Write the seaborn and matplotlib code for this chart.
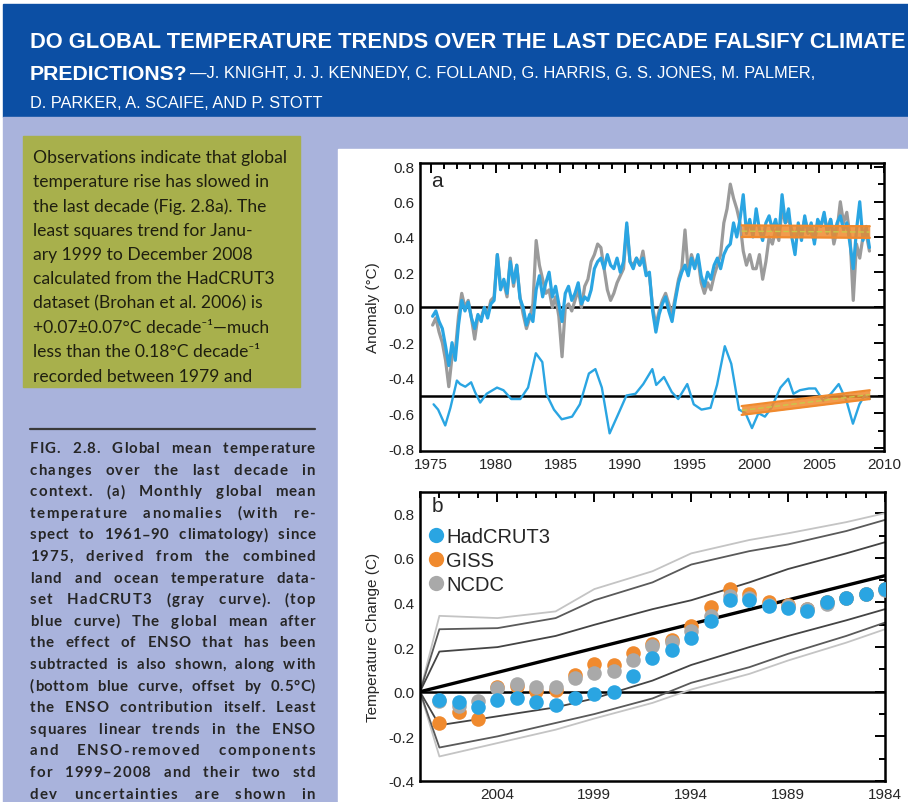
import numpy as np
import matplotlib
matplotlib.use("Agg")
import matplotlib.pyplot as plt
from matplotlib.patches import Rectangle
from matplotlib.lines import Line2D
from matplotlib.ticker import MultipleLocator, FixedLocator
import seaborn as sns

# ---- panel a: quarterly anomalies, 1975 Q1 .. 2008 Q4 ----
first_year = 1975
hadcrut3 = [
    -0.10, -0.06, -0.14, -0.20,  -0.30, -0.45, -0.28, -0.25,  -0.05, 0.08, 0.00, 0.04,
    -0.06, -0.18, -0.05, -0.06,   0.00, -0.04, 0.04, 0.06,    0.30, 0.12, 0.14, 0.06,
    0.28, 0.12, 0.24, 0.06,      -0.04, -0.12, -0.06, 0.02,   0.38, 0.24, 0.16, 0.08,
    0.10, 0.00, 0.06, -0.05,     -0.28, 0.00, 0.02, -0.02,    0.04, 0.10, 0.00, 0.12,
    0.16, 0.26, 0.30, 0.36,       0.34, 0.22, 0.10, 0.04,     0.08, 0.14, 0.18, 0.22,
    0.46, 0.26, 0.24, 0.28,       0.24, 0.32, 0.20, 0.18,     0.00, -0.10, -0.02, 0.04,
    0.08, 0.02, -0.04, 0.06,      0.16, 0.22, 0.44, 0.20,     0.30, 0.24, 0.28, 0.14,
    0.08, 0.14, 0.10, 0.18,       0.24, 0.30, 0.48, 0.56,     0.70, 0.62, 0.56, 0.48,
    0.32, 0.24, 0.30, 0.22,       0.22, 0.30, 0.16, 0.26,     0.40, 0.36, 0.44, 0.38,
    0.56, 0.48, 0.50, 0.44,       0.40, 0.46, 0.42, 0.50,     0.44, 0.42, 0.38, 0.48,
    0.46, 0.52, 0.44, 0.50,       0.36, 0.44, 0.60, 0.48,     0.54, 0.40, 0.04, 0.36,
    0.28, 0.40, 0.42, 0.32,
]
enso_removed = [
    -0.05, -0.02, -0.08, -0.12,  -0.22, -0.33, -0.20, -0.30,  -0.10, 0.04, -0.02, 0.03,
    -0.06, -0.12, -0.04, -0.08,   0.00, -0.06, 0.02, 0.04,    0.30, 0.10, 0.16, 0.08,
    0.26, 0.14, 0.24, 0.05,       0.00, -0.10, -0.04, -0.08,  0.10, 0.18, 0.06, 0.14,
    0.20, 0.06, 0.12, 0.02,      -0.08, 0.08, 0.12, 0.04,     0.08, 0.14, 0.02, 0.06,
    0.04, 0.10, 0.22, 0.26,       0.28, 0.22, 0.30, 0.24,     0.22, 0.28, 0.20, 0.26,
    0.48, 0.26, 0.22, 0.28,       0.24, 0.28, 0.18, 0.20,    -0.02, -0.14, -0.04, 0.02,
    0.06, -0.02, -0.08, 0.04,     0.14, 0.20, 0.24, 0.18,     0.28, 0.22, 0.30, 0.18,
    0.12, 0.20, 0.16, 0.24,       0.28, 0.22, 0.30, 0.34,     0.36, 0.48, 0.40, 0.50,
    0.64, 0.42, 0.50, 0.40,       0.56, 0.44, 0.38, 0.48,     0.52, 0.44, 0.50, 0.40,
    0.64, 0.48, 0.56, 0.40,       0.30, 0.48, 0.38, 0.52,     0.42, 0.48, 0.36, 0.50,
    0.46, 0.54, 0.42, 0.50,       0.40, 0.48, 0.52, 0.44,     0.48, 0.36, 0.22, 0.44,
    0.60, 0.38, 0.46, 0.34,
]
# ENSO contribution, already offset by -0.5 as drawn
enso_years = [1975.2, 1975.55, 1976.1, 1976.5, 1977.0, 1977.25, 1977.65, 1978.1, 1978.4,
              1978.8, 1979.3, 1980.1, 1980.6, 1981.2, 1981.9, 1982.5, 1983.1, 1983.6,
              1983.9, 1984.5, 1985.1, 1985.9, 1986.5, 1987.2, 1987.7, 1988.2, 1988.8,
              1989.5, 1990.1, 1990.8, 1991.4, 1992.1, 1992.4, 1993.0, 1993.6, 1994.1,
              1994.8, 1995.3, 1995.9, 1996.6, 1997.1, 1997.7, 1998.2, 1998.8, 1999.3,
              1999.8, 2000.3, 2000.8, 2001.3, 2002.0, 2002.6, 2003.0, 2003.5, 2004.2,
              2004.7, 2005.3, 2005.9, 2006.5, 2007.1, 2007.6, 2008.1, 2008.5, 2008.9]
enso_vals = [-0.55, -0.58, -0.67, -0.57, -0.415, -0.435, -0.45, -0.425, -0.48,
             -0.54, -0.49, -0.455, -0.47, -0.52, -0.52, -0.455, -0.26, -0.31,
             -0.49, -0.58, -0.635, -0.62, -0.55, -0.375, -0.35, -0.455, -0.715,
             -0.60, -0.50, -0.49, -0.435, -0.35, -0.44, -0.395, -0.48, -0.52,
             -0.435, -0.55, -0.58, -0.57, -0.44, -0.22, -0.32, -0.58, -0.60,
             -0.685, -0.60, -0.62, -0.57, -0.455, -0.405, -0.49, -0.47, -0.46,
             -0.46, -0.53, -0.49, -0.435, -0.53, -0.66, -0.55, -0.50, -0.52]
trend_years = [1999.0, 2008.9]
trend_removed = [0.433, 0.428]
trend_removed_err = 0.033
trend_enso = [-0.585, -0.495]
trend_enso_err = 0.025

# ---- panel b: trend to 2008 by start year ----
start_years = list(range(2007, 1983, -1))
had_b = [-0.038, -0.048, -0.07, -0.038, -0.03, -0.045, -0.06, -0.026, -0.008, 0.0, 0.07, 0.15,
         0.185, 0.24, 0.317, 0.41, 0.41, 0.385, 0.373, 0.36, 0.40, 0.42, 0.44, 0.46]
giss_b = [-0.14, -0.09, -0.12, 0.02, 0.025, 0.005, 0.01, 0.075, 0.125, 0.12, 0.175, 0.215,
          0.23, 0.295, 0.38, 0.46, 0.44, 0.40, 0.39, 0.37, 0.40, 0.42, 0.44, 0.46]
ncdc_b = [-0.04, -0.065, -0.04, 0.015, 0.035, 0.02, 0.02, 0.06, 0.085, 0.095, 0.14, 0.205,
          0.225, 0.27, 0.34, 0.43, 0.42, 0.39, 0.385, 0.37, 0.395, 0.42, 0.44, 0.455]
central_years = [2008, 1984]
central_trend = [0.0, 0.52]
env_years = [2008, 2007, 2004, 2001, 1999, 1996, 1994, 1991, 1989, 1986, 1984]
upper_light = [0, 0.34, 0.33, 0.36, 0.46, 0.54, 0.62, 0.68, 0.71, 0.76, 0.80]
upper_outer = [0, 0.28, 0.285, 0.33, 0.41, 0.49, 0.57, 0.63, 0.66, 0.72, 0.77]
upper_inner = [0, 0.18, 0.20, 0.25, 0.30, 0.37, 0.41, 0.49, 0.55, 0.62, 0.67]
lower_inner = [0, -0.15, -0.11, -0.07, -0.03, 0.05, 0.12, 0.20, 0.25, 0.32, 0.37]
lower_outer = [0, -0.25, -0.20, -0.14, -0.10, -0.03, 0.04, 0.11, 0.17, 0.25, 0.31]
lower_light = [0, -0.29, -0.23, -0.17, -0.12, -0.05, 0.01, 0.08, 0.14, 0.22, 0.28]

# ---- page text ----
title_1 = "DO GLOBAL TEMPERATURE TRENDS OVER THE LAST DECADE FALSIFY CLIMATE"
title_2a = "PREDICTIONS?"
title_2b = "\u2014J. KNIGHT, J. J. KENNEDY, C. FOLLAND, G. HARRIS, G. S. JONES, M. PALMER,"
title_3 = "D. PARKER, A. SCAIFE, AND P. STOTT"
box_lines = [
    "Observations indicate that global",
    "temperature rise has slowed in",
    "the last decade (Fig. 2.8a). The",
    "least squares trend for Janu-",
    "ary 1999 to December 2008",
    "calculated from the HadCRUT3",
    "dataset (Brohan et al. 2006) is",
    "+0.07\u00b10.07\u00b0C decade\u207b\u00b9\u2014much",
    "less than the 0.18\u00b0C decade\u207b\u00b9",
    "recorded between 1979 and",
]
caption_lines = [
    "FIG. 2.8. Global mean temperature",
    "changes over the last decade in",
    "context. (a) Monthly global mean",
    "temperature anomalies (with re-",
    "spect to 1961\u201390 climatology) since",
    "1975, derived from the combined",
    "land and ocean temperature data-",
    "set HadCRUT3 (gray curve). (top",
    "blue curve) The global mean after",
    "the effect of ENSO that has been",
    "subtracted is also shown, along with",
    "(bottom blue curve, offset by 0.5\u00b0C)",
    "the ENSO contribution itself. Least",
    "squares linear trends in the ENSO",
    "and ENSO-removed components",
    "for 1999\u20132008 and their two std",
    "dev uncertainties are shown in",
]

BLUE = "#2aa5e2"
ORANGE = "#f08a2e"
DOT_GRAY = "#a9a9a9"
CURVE_GRAY = "#9b9b9b"

sns.set_style("white")
plt.rcParams["font.family"] = ["Liberation Sans", "DejaVu Sans"]
plt.rcParams["axes.unicode_minus"] = False

W, H = 908, 803
fig = plt.figure(figsize=(W / 100, H / 100), dpi=100)
renderer = fig.canvas.get_renderer()


def rect(x0, y0, x1, y1):
    return [x0 / W, 1 - y1 / H, (x1 - x0) / W, (y1 - y0) / H]


def page_box(x0, y0, x1, y1, color):
    fig.patches.append(Rectangle((x0 / W, 1 - y1 / H), (x1 - x0) / W, (y1 - y0) / H,
                                 transform=fig.transFigure, color=color, zorder=-10))


def fit_text(x, y, s, width, size=14, **kw):
    t = fig.text(x / W, 1 - y / H, s, fontsize=size, va="center", ha="left", **kw)
    w = t.get_window_extent(renderer).width
    t.set_fontsize(size * width / w)
    return t


def justify(x0, x1, y, line, **kw):
    # spread the slack over letter gaps and (more) over word gaps, like the page
    chars = list(line)
    texts = [fig.text(0, 1 - y / H, c, va="center", ha="left", **kw) for c in chars]
    widths = []
    for c, t in zip(chars, texts):
        widths.append(t.get_window_extent(renderer).width if c != " " else 0.0)
    space_w = fig.text(0, 0, "n n", **kw).get_window_extent(renderer).width - \
        2 * fig.text(0, 0, "n", **kw).get_window_extent(renderer).width
    for t in fig.texts[-2:]:
        t.remove()
    n_space = chars.count(" ")
    base = sum(widths) + n_space * space_w
    slack = max(x1 - x0 - base, 0)
    weights = [3.0 if c == " " else 0.35 for c in chars[:-1]]
    unit = slack / sum(weights)
    x = x0
    for i, (c, t, w) in enumerate(zip(chars, texts, widths)):
        t.set_x(x / W)
        x += w if c != " " else space_w
        if i < len(weights):
            x += weights[i] * unit


# page background
page_box(3, 5, 908, 118, "#0c4fa4")
page_box(3, 118, 908, 803, "#a9b3dc")
page_box(338, 150, 908, 803, "white")
page_box(23, 137, 300, 388, "#a8b04c")
fig.lines.append(Line2D([30 / W, 315 / W], [1 - 430 / H, 1 - 430 / H],
                        transform=fig.transFigure, color="#3a3a3a", lw=1.6, zorder=-5))

head_font = ["Liberation Sans Narrow", "Liberation Sans", "DejaVu Sans"]
fit_text(30, 43, title_1, 875, color="white", fontweight="bold", family=head_font)
fit_text(30, 74, title_2a, 158, color="white", fontweight="bold", family=head_font)
fit_text(190, 74, title_2b, 625, color="white", family=head_font)
fit_text(30, 103, title_3, 292, color="white", family=head_font)

for i, line in enumerate(box_lines):
    fig.text(33 / W, 1 - (158 + i * 24.3) / H, line, fontsize=12.6, va="center",
             color="#1f1f10", family=["Lato", "DejaVu Sans"])

for i, line in enumerate(caption_lines):
    justify(30, 315, 449 + i * 21.6, line, fontsize=10.8, fontweight="bold",
            color="#262626", family=["Lato", "DejaVu Sans"])


def style_axis(ax):
    for sp in ax.spines.values():
        sp.set_linewidth(1.8)
        sp.set_color("black")
    ax.tick_params(which="both", direction="in", top=True, right=True,
                   width=1.4, labelsize=11, color="black", pad=4)
    ax.tick_params(which="major", length=7)
    ax.tick_params(which="minor", length=4)
    ax.set_facecolor("white")
    ax.grid(False)


# ---- panel a ----
ax1 = fig.add_axes(rect(420, 164, 884, 452))
qx = first_year + (np.arange(len(hadcrut3)) + 0.5) / 4
sns.lineplot(x=qx, y=hadcrut3, ax=ax1, color=CURVE_GRAY, lw=2.3, sort=False)
sns.lineplot(x=qx, y=enso_removed, ax=ax1, color=BLUE, lw=2.3, sort=False)
sns.lineplot(x=enso_years, y=enso_vals, ax=ax1, color=BLUE, lw=1.7, sort=False)
ax1.axhline(0.0, color="black", lw=1.8, zorder=1)
ax1.axhline(-0.5, color="black", lw=1.8, zorder=1)
for mid, err in [(trend_removed, trend_removed_err), (trend_enso, trend_enso_err)]:
    lo = [m - err for m in mid]
    hi = [m + err for m in mid]
    ax1.fill_between(trend_years, lo, hi, color=ORANGE, alpha=0.85, lw=0, zorder=4)
    sns.lineplot(x=trend_years, y=lo, ax=ax1, color=ORANGE, lw=1.6, zorder=5)
    sns.lineplot(x=trend_years, y=hi, ax=ax1, color=ORANGE, lw=1.6, zorder=5)
    sns.lineplot(x=trend_years, y=mid, ax=ax1, color="#c9c84a", lw=1.0,
                 linestyle=(0, (4, 2)), zorder=6)
ax1.set_xlim(1974.15, 2010)
ax1.set_ylim(-0.815, 0.82)
ax1.xaxis.set_major_locator(FixedLocator(list(range(1975, 2011, 5))))
ax1.xaxis.set_minor_locator(MultipleLocator(1))
ax1.yaxis.set_major_locator(MultipleLocator(0.2))
ax1.yaxis.set_minor_locator(MultipleLocator(0.1))
ax1.yaxis.set_major_formatter(lambda v, p: f"{v:.1f}")
ax1.set_ylabel("Anomaly (\u00b0C)", fontsize=11, labelpad=6)
ax1.set_xlabel("")
style_axis(ax1)
ax1.text(0.025, 0.94, "a", transform=ax1.transAxes, fontsize=15, va="center")

# ---- panel b ----
ax2 = fig.add_axes(rect(420, 493, 885, 782))
for ys, col in [(upper_light, "#c4c4c4"), (lower_light, "#c4c4c4"),
                (upper_outer, "#5a5a5a"), (lower_outer, "#5a5a5a"),
                (upper_inner, "#444444"), (lower_inner, "#444444")]:
    sns.lineplot(x=env_years, y=ys, ax=ax2, color=col, lw=1.3, sort=False)
sns.lineplot(x=central_years, y=central_trend, ax=ax2, color="black", lw=2.4, sort=False)
ax2.axhline(0.0, color="black", lw=1.8, zorder=1)
sns.scatterplot(x=start_years, y=giss_b, ax=ax2, color=ORANGE, s=110, linewidth=0, zorder=5)
sns.scatterplot(x=start_years, y=ncdc_b, ax=ax2, color=DOT_GRAY, s=110, linewidth=0, zorder=6)
sns.scatterplot(x=start_years, y=had_b, ax=ax2, color=BLUE, s=110, linewidth=0, zorder=7)
ax2.set_xlim(2008, 1984)
ax2.set_ylim(-0.4, 0.895)
ax2.xaxis.set_major_locator(FixedLocator([2004, 1999, 1994, 1989, 1984]))
ax2.xaxis.set_minor_locator(MultipleLocator(1))
ax2.yaxis.set_major_locator(MultipleLocator(0.2))
ax2.yaxis.set_minor_locator(MultipleLocator(0.1))
ax2.yaxis.set_major_formatter(lambda v, p: f"{v:.1f}")
ax2.set_ylabel("Temperature Change (C)", fontsize=11, labelpad=6)
ax2.set_xlabel("")
style_axis(ax2)
ax2.text(0.025, 0.955, "b", transform=ax2.transAxes, fontsize=15, va="center")
handles = [Line2D([], [], marker="o", ls="", color=c, markersize=11, markeredgewidth=0)
           for c in (BLUE, ORANGE, DOT_GRAY)]
ax2.legend(handles, ["HadCRUT3", "GISS", "NCDC"], loc="upper left",
           bbox_to_anchor=(0.02, 0.88), frameon=False, fontsize=14.5,
           handlelength=0.7, handletextpad=0.15, borderpad=0, borderaxespad=0,
           labelspacing=0.25)

fig.savefig("out.png", dpi=100, facecolor="white")
